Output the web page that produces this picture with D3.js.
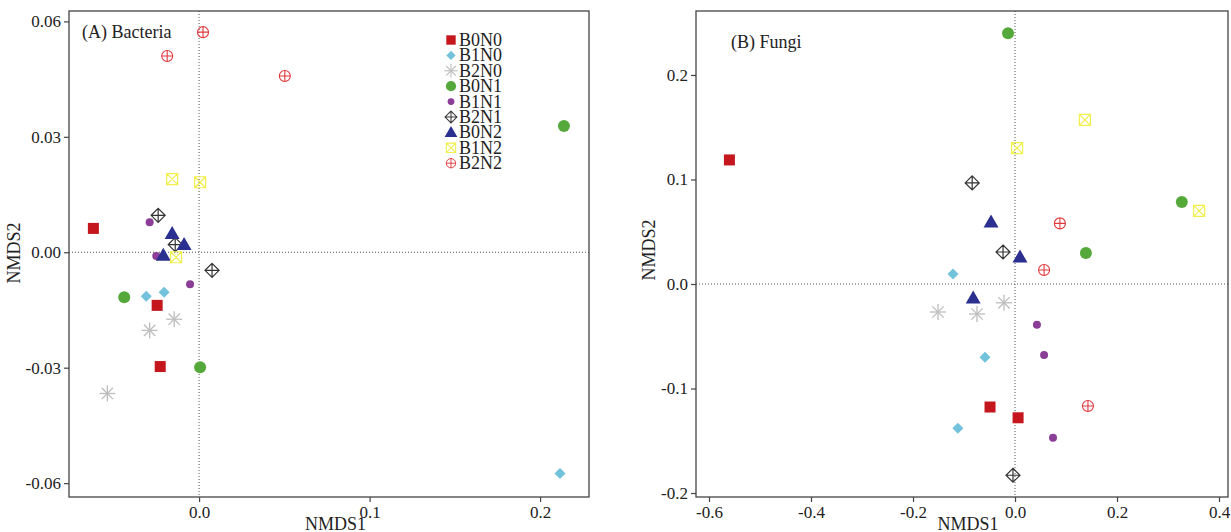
<!DOCTYPE html>
<html>
<head>
<meta charset="utf-8">
<script src="https://cdn.jsdelivr.net/npm/d3@7"></script>
<style>
  body { margin: 0; background: #fff; }
  svg text { font-family: "Liberation Serif", "Times New Roman", serif; fill: #222; }
</style>
</head>
<body>
<div id="chart"></div>
<script>
// groups, in legend order
var groups = ["B0N0", "B1N0", "B2N0", "B0N1", "B1N1", "B2N1", "B0N2", "B1N2", "B2N2"];

// (A) Bacteria, NMDS1 / NMDS2 per group (3 replicates each)
var bactX = [
  [-0.062, -0.0246, -0.0228],
  [-0.031, -0.0205, 0.2117],
  [-0.029, -0.0146, -0.0538],
  [-0.0439, 0.0006, 0.214],
  [-0.029, -0.0251, -0.0053],
  [-0.024, -0.014, 0.0076],
  [-0.0158, -0.0088, -0.021],
  [-0.0158, 0.0006, -0.0135],
  [-0.0187, 0.0023, 0.0503]
];
var bactY = [
  [0.0062, -0.0138, -0.0297],
  [-0.0114, -0.0104, -0.0575],
  [-0.0203, -0.0174, -0.0367],
  [-0.0117, -0.0299, 0.0328],
  [0.0078, -0.001, -0.0083],
  [0.0096, 0.002, -0.0047],
  [0.0049, 0.002, -0.0008],
  [0.019, 0.0182, -0.0013],
  [0.051, 0.0572, 0.0458]
];

// (B) Fungi
var fungX = [
  [-0.56, -0.049, 0.006],
  [-0.1216, -0.0588, -0.112],
  [-0.151, -0.0745, -0.0216],
  [-0.0137, 0.139, 0.327],
  [0.043, 0.057, 0.0745],
  [-0.084, -0.0235, -0.004],
  [-0.047, 0.0098, -0.082],
  [0.004, 0.137, 0.361],
  [0.088, 0.057, 0.143]
];
var fungY = [
  [0.1187, -0.1177, -0.128],
  [0.0096, -0.07, -0.138],
  [-0.0268, -0.0287, -0.018],
  [0.24, 0.0297, 0.0785],
  [-0.039, -0.068, -0.147],
  [0.0967, 0.0306, -0.183],
  [0.0593, 0.0258, -0.0134],
  [0.13, 0.157, 0.07],
  [0.058, 0.0134, -0.1167]
];

var bactXTicks = [0.0, 0.1, 0.2];
var bactYTicks = [-0.06, -0.03, 0.00, 0.03, 0.06];
var fungXTicks = [-0.6, -0.4, -0.2, 0.0, 0.2, 0.4];
var fungYTicks = [-0.2, -0.1, 0.0, 0.1, 0.2];

var colors = ["#c4161c", "#72c2dc", "#bdbdbd", "#55a93a", "#8b3d98", "#333333", "#2b2f8f", "#f2ef4a", "#e0383c"];

var W = 1231, H = 532;
var svg = d3.select("#chart").append("svg").attr("width", W).attr("height", H);

function fmt(f) {
  return function(d) { return d3.format(f)(d).replace("\u2212", "-"); };
}

// draw one marker of group g at origin
function marker(sel, g) {
  var c = colors[g];
  if (g == 0) {
    sel.append("rect").attr("x", -5.5).attr("y", -5.5).attr("width", 11).attr("height", 11).attr("fill", c);
  } else if (g == 1) {
    sel.append("path").attr("d", "M0,-5.5L5.5,0L0,5.5L-5.5,0Z").attr("fill", c);
  } else if (g == 2) {
    var r = 8;
    [0, 45, 90, 135].forEach(function(a) {
      var t = a * Math.PI / 180;
      sel.append("line").attr("x1", -r * Math.cos(t)).attr("y1", -r * Math.sin(t))
        .attr("x2", r * Math.cos(t)).attr("y2", r * Math.sin(t))
        .attr("stroke", c).attr("stroke-width", 1.3);
    });
  } else if (g == 3) {
    sel.append("circle").attr("r", 6).attr("fill", c);
  } else if (g == 4) {
    sel.append("circle").attr("r", 4).attr("fill", c);
  } else if (g == 5) {
    sel.append("path").attr("d", "M0,-7L7,0L0,7L-7,0ZM0,-7L0,7M-7,0L7,0")
      .attr("fill", "none").attr("stroke", c).attr("stroke-width", 1.2);
  } else if (g == 6) {
    sel.append("path").attr("d", "M0,-7.5L7.5,5.5L-7.5,5.5Z").attr("fill", c);
  } else if (g == 7) {
    sel.append("path").attr("d", "M-5.5,-5.5H5.5V5.5H-5.5ZM-5.5,-5.5L5.5,5.5M5.5,-5.5L-5.5,5.5")
      .attr("fill", "none").attr("stroke", c).attr("stroke-width", 1.2);
  } else {
    sel.append("circle").attr("r", 5.5).attr("fill", "none").attr("stroke", c).attr("stroke-width", 1.1);
    sel.append("path").attr("d", "M0,-5.5V5.5M-5.5,0H5.5").attr("stroke", c).attr("stroke-width", 1.1);
  }
}

function panel(opt) {
  var x = d3.scaleLinear().domain(opt.xdom).range([opt.left, opt.right]);
  var y = d3.scaleLinear().domain(opt.ydom).range([opt.bottom, opt.top]);
  var g = svg.append("g");

  // zero reference lines
  g.append("line").attr("x1", opt.left).attr("x2", opt.right).attr("y1", y(0)).attr("y2", y(0))
    .attr("stroke", "#555").attr("stroke-width", 1).attr("stroke-dasharray", "1,2");
  g.append("line").attr("x1", x(0)).attr("x2", x(0)).attr("y1", opt.top).attr("y2", opt.bottom)
    .attr("stroke", "#555").attr("stroke-width", 1).attr("stroke-dasharray", "1,2");

  // frame
  g.append("rect").attr("x", opt.left).attr("y", opt.top)
    .attr("width", opt.right - opt.left).attr("height", opt.bottom - opt.top)
    .attr("fill", "none").attr("stroke", "#444").attr("stroke-width", 1.3);

  var xa = g.append("g").attr("transform", "translate(0," + opt.bottom + ")")
    .call(d3.axisBottom(x).tickValues(opt.xticks).tickFormat(fmt(opt.xfmt)).tickSizeOuter(0).tickSize(5).tickPadding(4));
  var ya = g.append("g").attr("transform", "translate(" + opt.left + ",0)")
    .call(d3.axisLeft(y).tickValues(opt.yticks).tickFormat(fmt(opt.yfmt)).tickSizeOuter(0).tickSize(5).tickPadding(3));
  [xa, ya].forEach(function(a) {
    a.attr("font-family", null);
    a.select(".domain").remove();
    a.selectAll(".tick line").attr("stroke", "#444").attr("stroke-width", 1.2);
    a.selectAll("text").style("font-family", "'Liberation Serif', serif").style("font-size", "17px").attr("fill", "#222");
  });

  g.append("text").attr("x", x(opt.xlabAt)).attr("y", 530)
    .attr("text-anchor", "middle").style("font-size", "18px").text("NMDS1");
  g.append("text").attr("transform", "translate(" + opt.ylabX + "," + opt.ylabY + ") rotate(-90)")
    .attr("text-anchor", "middle").style("font-size", "18px").text("NMDS2");

  g.append("text").attr("x", opt.titleX).attr("y", opt.titleY).style("font-size", "18px").text(opt.title);

  opt.xs.forEach(function(arr, gi) {
    arr.forEach(function(v, k) {
      var m = g.append("g").attr("transform", "translate(" + x(v) + "," + y(opt.ys[gi][k]) + ")");
      marker(m, gi);
    });
  });
  return g;
}

var pA = panel({
  left: 69, right: 589, top: 11, bottom: 497,
  xdom: [-0.0763, 0.2287], ydom: [-0.0636, 0.0627],
  xticks: bactXTicks, yticks: bactYTicks, xfmt: ".1f", yfmt: ".2f",
  xs: bactX, ys: bactY, xlabAt: 0.08, ylabX: 20, ylabY: 253,
  title: "(A) Bacteria", titleX: 82, titleY: 38
});

var pB = panel({
  left: 696, right: 1228, top: 11, bottom: 497,
  xdom: [-0.6255, 0.4176], ydom: [-0.2038, 0.2612],
  xticks: fungXTicks, yticks: fungYTicks, xfmt: ".1f", yfmt: ".1f",
  xs: fungX, ys: fungY, xlabAt: -0.092, ylabX: 655, ylabY: 250,
  title: "(B) Fungi", titleX: 731, titleY: 48
});

// legend in panel A
var leg = svg.append("g").attr("transform", "translate(451,40)");
groups.forEach(function(name, i) {
  var row = leg.append("g").attr("transform", "translate(0," + (i * 15.4) + ")");
  var m = row.append("g").attr("transform", "scale(0.85)");
  marker(m, i);
  row.append("text").attr("x", 8).attr("y", 6).style("font-size", "18px").text(name);
});
</script>
</body>
</html>
